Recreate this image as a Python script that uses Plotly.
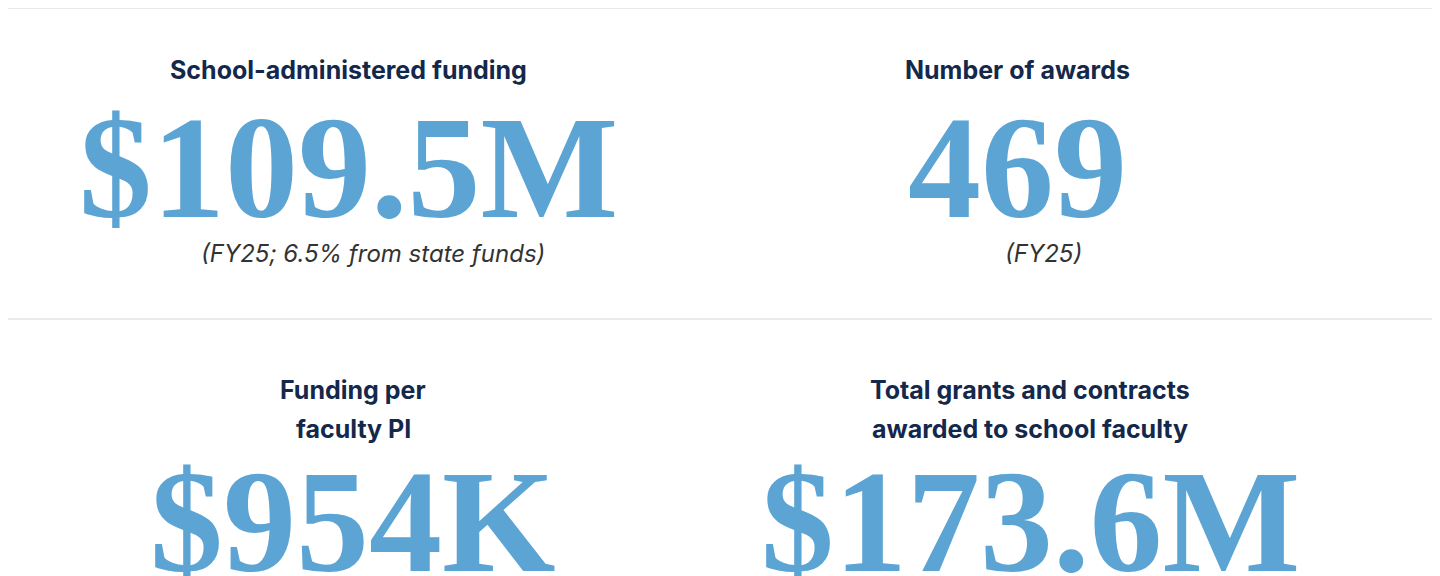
import plotly.graph_objects as go

W, H = 1440, 576

titles = ["School-administered funding", "Number of awards",
          "Funding per<br>faculty PI", "Total grants and contracts<br>awarded to school faculty"]
values = ["$109.5M", "469", "$954K", "$173.6M"]
notes = ["(FY25; 6.5% from state funds)", "(FY25)", "", ""]

# pixel positions of each tile: center x, title y, number y, note y
col_x = [340, 1010, 345, 1022]
title_y = [62, 62, 382, 382]
num_y = [160, 160, 514, 514]
note_y = [246, 246, None, None]
LINE_GAP = 39

NAVY = "#14284b"
BLUE = "#5ba4d4"

fig = go.Figure()


def py(p):
    return 1 - p / H


for i in range(len(titles)):
    for k, line in enumerate(titles[i].split("<br>")):
        fig.add_annotation(x=col_x[i] / W, y=py(title_y[i] + k * LINE_GAP), xref="paper", yref="paper",
                           text="<b>" + line + "</b>", showarrow=False,
                           font=dict(family="Inter", size=25, color=NAVY),
                           xanchor="center", yanchor="middle")
    fig.add_annotation(x=col_x[i] / W, y=py(num_y[i]), xref="paper", yref="paper",
                       text="<b>" + values[i] + "</b>", showarrow=False,
                       font=dict(family="Liberation Serif", size=146, color=BLUE),
                       xanchor="center", yanchor="middle")
    if notes[i]:
        fig.add_annotation(x=(col_x[i] + 25) / W, y=py(note_y[i]), xref="paper", yref="paper",
                           text="<i>" + notes[i] + "</i>", showarrow=False,
                           font=dict(family="Inter", size=24, color="#333333"),
                           xanchor="center", yanchor="middle")

for yy in [0, 311]:
    fig.add_shape(type="line", xref="paper", yref="paper", x0=0, x1=1, y0=py(yy), y1=py(yy),
                  line=dict(color="#e3e3e3", width=1.5))

fig.update_layout(width=W, height=H, margin=dict(l=0, r=0, t=0, b=0),
                  paper_bgcolor="white", plot_bgcolor="white",
                  xaxis=dict(visible=False), yaxis=dict(visible=False))

fig.write_html("out.html")
